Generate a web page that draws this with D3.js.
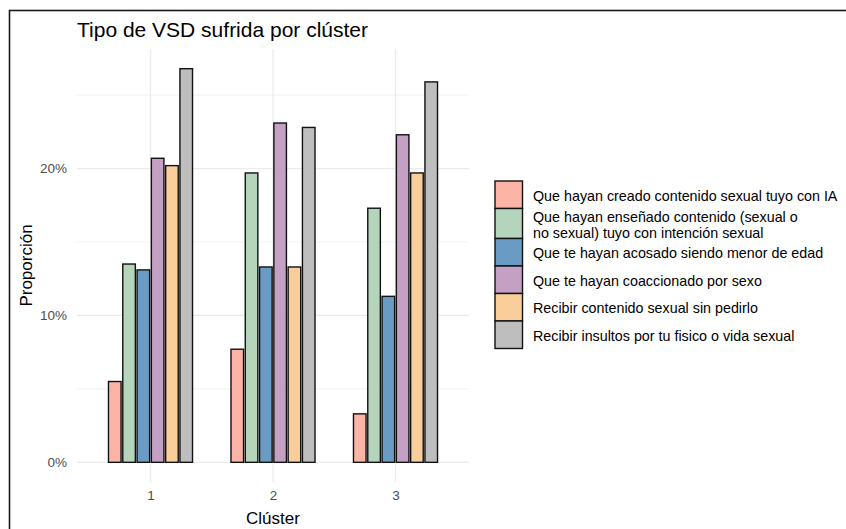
<!DOCTYPE html>
<html>
<head>
<meta charset="utf-8">
<script src="https://cdn.jsdelivr.net/npm/d3@7"></script>
<style>
  html, body { margin: 0; padding: 0; background: #fff; }
  svg { display: block; font-family: "Liberation Sans", Arial, sans-serif; }
</style>
</head>
<body>
<svg id="chart" width="846" height="529"></svg>
<script>
// Clusters on the x axis
const clusters = ["1", "2", "3"];

// Violence types (fill groups)
const types = [
  "Que hayan creado contenido sexual tuyo con IA",
  "Que hayan enseñado contenido (sexual o\nno sexual) tuyo con intención sexual",
  "Que te hayan acosado siendo menor de edad",
  "Que te hayan coaccionado por sexo",
  "Recibir contenido sexual sin pedirlo",
  "Recibir insultos por tu fisico o vida sexual"
];

// Proportion of each type, one array per cluster (same order as types)
const cluster1 = [0.055, 0.135, 0.131, 0.207, 0.202, 0.268];
const cluster2 = [0.077, 0.197, 0.133, 0.231, 0.133, 0.228];
const cluster3 = [0.033, 0.173, 0.113, 0.223, 0.197, 0.259];

const fills = ["#FBB4A6", "#B4D4BC", "#6A9BC4", "#C4A0C4", "#F9CE9B", "#BEBEBE"];

const majorTicks = [0, 0.1, 0.2];
const minorTicks = [0.05, 0.15, 0.25];

const rows = [cluster1, cluster2, cluster3];
const data = [];
clusters.forEach((c, i) => {
  types.forEach((t, j) => data.push({ cluster: c, type: t, value: rows[i][j] }));
});

const svg = d3.select("#chart");

// Panel extent
const panelLeft = 77, panelRight = 469, panelTop = 49, panelBottom = 482;

const x = d3.scalePoint().domain(clusters).range([panelLeft, panelRight]).padding(0.6);
const span = x.step() * 0.7;
const xInner = d3.scaleBand().domain(types)
  .range([-span / 2, span / 2]).paddingInner(0.12).paddingOuter(0.06);

const maxV = d3.max(data, d => d.value);
const pad = maxV * 0.05;
const y = d3.scaleLinear().domain([-pad, maxV + pad]).range([panelBottom, panelTop]);

const color = d3.scaleOrdinal().domain(types).range(fills);

// Outer frame
svg.append("rect")
  .attr("x", 9.5).attr("y", 10.5).attr("width", 900).attr("height", 600)
  .attr("fill", "none").attr("stroke", "#1a1a1a").attr("stroke-width", 1.6);

// Grid
const grid = svg.append("g");
grid.selectAll("line.minor").data(minorTicks).join("line")
  .attr("x1", panelLeft).attr("x2", panelRight)
  .attr("y1", d => y(d)).attr("y2", d => y(d))
  .attr("stroke", "#EBEBEB").attr("stroke-width", 0.7);
grid.selectAll("line.major").data(majorTicks).join("line")
  .attr("x1", panelLeft).attr("x2", panelRight)
  .attr("y1", d => y(d)).attr("y2", d => y(d))
  .attr("stroke", "#EBEBEB").attr("stroke-width", 1.3);
grid.selectAll("line.vx").data(clusters).join("line")
  .attr("x1", d => x(d)).attr("x2", d => x(d))
  .attr("y1", panelTop).attr("y2", panelBottom)
  .attr("stroke", "#EBEBEB").attr("stroke-width", 1.3);

// Bars
svg.append("g").selectAll("rect").data(data).join("rect")
  .attr("x", d => x(d.cluster) + xInner(d.type))
  .attr("width", xInner.bandwidth())
  .attr("y", d => y(d.value))
  .attr("height", d => y(0) - y(d.value))
  .attr("fill", d => color(d.type))
  .attr("stroke", "#111").attr("stroke-width", 1.4);

// Y axis labels
const yAxis = d3.axisLeft(y).tickValues(majorTicks)
  .tickFormat(d3.format(".0%")).tickSize(0).tickPadding(10);
const gy = svg.append("g").attr("transform", `translate(${panelLeft},0)`).call(yAxis);
gy.select(".domain").remove();
gy.selectAll("text").attr("fill", "#4D4D4D").attr("font-size", 13.5)
  .attr("font-family", "Liberation Sans, Arial, sans-serif");

// X axis labels
const xAxis = d3.axisBottom(x).tickSize(0).tickPadding(8);
const gx = svg.append("g").attr("transform", `translate(0,${panelBottom})`).call(xAxis);
gx.select(".domain").remove();
gx.selectAll("text").attr("fill", "#4D4D4D").attr("font-size", 13.5)
  .attr("font-family", "Liberation Sans, Arial, sans-serif");

// Titles
svg.append("text").attr("x", panelLeft).attr("y", 37)
  .attr("font-size", 21).attr("fill", "#000")
  .text("Tipo de VSD sufrida por clúster");

svg.append("text").attr("x", (panelLeft + panelRight) / 2).attr("y", 524)
  .attr("text-anchor", "middle").attr("font-size", 17).attr("fill", "#000")
  .text("Clúster");

svg.append("text")
  .attr("transform", `translate(32,${(panelTop + panelBottom) / 2}) rotate(-90)`)
  .attr("text-anchor", "middle").attr("font-size", 17).attr("fill", "#000")
  .text("Proporción");

// Legend
const legend = svg.append("g");
let ly = 181;
types.forEach(t => {
  const lines = t.split("\n");
  const h = lines.length > 1 ? 30 : 27.5;
  legend.append("rect")
    .attr("x", 495).attr("y", ly).attr("width", 27.5).attr("height", h)
    .attr("fill", color(t)).attr("stroke", "#111").attr("stroke-width", 1.4);
  const cy = ly + h / 2;
  const lh = 16;
  const txt = legend.append("text").attr("font-size", 14.3).attr("fill", "#000");
  lines.forEach((ln, k) => {
    txt.append("tspan").attr("x", 533)
      .attr("y", cy + (k - (lines.length - 1) / 2) * lh + 6.2)
      .text(ln);
  });
  ly += h;
});
</script>
</body>
</html>
